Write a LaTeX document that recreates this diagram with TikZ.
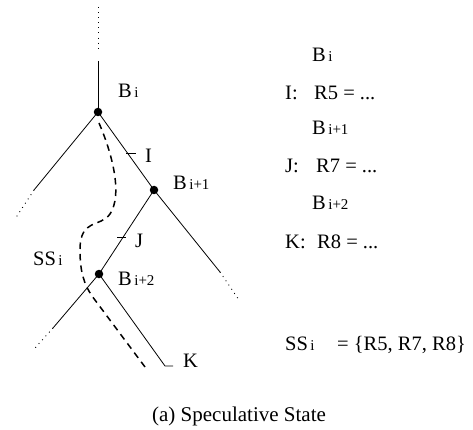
\documentclass[tikz,border=0pt]{standalone}
\usepackage{fontspec}
\setmainfont{Liberation Serif}
\newcommand{\lbl}{\fontsize{20.5}{24}\selectfont}
\newcommand{\sbs}[1]{\hspace{0.12em}{\fontsize{15}{17}\selectfont #1}}
\begin{document}
\begin{tikzpicture}[x=1pt,y=-1pt,
  tree/.style={line width=0.8pt},
  dots/.style={line width=0.9pt,dash pattern=on 0.9pt off 4.2pt},
  spec/.style={line width=1.5pt,dash pattern=on 6.5pt off 5pt},
  br/.style={circle,fill=black,inner sep=0pt,minimum size=8.5pt},
  txt/.style={anchor=base west,inner sep=0pt,font=\lbl}]
\useasboundingbox (0,0) rectangle (473,430);
% branch points
\node[br] (bi) at (98,112) {};
\node[br] (bj) at (154,190) {};
\node[br] (bk) at (99,274) {};
% coordinates
\coordinate (top1) at (98,7);
\coordinate (top2) at (98,50);
\coordinate (top3) at (98,61);
\coordinate (l1) at (34,190);
\coordinate (l2) at (15,219);
\coordinate (r1) at (220,272);
\coordinate (r2) at (239,300);
\coordinate (ll1) at (53,328);
\coordinate (ll2) at (35,348);
\coordinate (k1) at (165,366);
\coordinate (k2) at (173,366);
\coordinate (ti1) at (126,153);
\coordinate (ti2) at (136,153);
\coordinate (tj1) at (117,237);
\coordinate (tj2) at (126,237);
% tree
\draw[dots] (top1) -- (top2);
\draw[tree] (top3) -- (bi.center);
\draw[tree] (bi.center) -- (l1);
\draw[dots] (l1) -- (l2);
\draw[tree] (bi.center) -- (bj.center) -- (r1);
\draw[dots] (r1) -- (r2);
\draw[tree] (bj.center) -- (bk.center) -- (ll1);
\draw[dots] (ll1) -- (ll2);
\draw[tree] (bk.center) -- (k1) -- (k2);
\draw[tree] (ti1) -- (ti2);
\draw[tree] (tj1) -- (tj2);
% speculative path
\coordinate (s0) at (99,123);
\coordinate (s9) at (145,367);
\draw[spec] (s0) .. controls (114,158) and (122,196) .. (110,214)
  .. controls (100,228) and (80,218) .. (80,250)
  .. controls (80,272) and (84,284) .. (92,296) -- (s9);
% labels on tree
\node[txt] (lbi) at (118,98) {B\sbs{i}};
\node[txt] (lbj) at (173,190) {B\sbs{i+1}};
\node[txt] (lbk) at (118,285) {B\sbs{i+2}};
\node[txt] (li) at (145,163) {I};
\node[txt] (lj) at (135,247) {J};
\node[txt] (lk) at (183,367) {K};
\node[txt] (lss) at (33,265) {SS\sbs{i}};
% right column
\node[txt] (rbi) at (312,62) {B\sbs{i}};
\node[txt] (ri) at (285,100) {I:};
\node[txt] (ri2) at (314,100) {R5 = ...};
\node[txt] (rbj) at (312,135) {B\sbs{i+1}};
\node[txt] (rj) at (285,173) {J:};
\node[txt] (rj2) at (316,173) {R7 = ...};
\node[txt] (rbk) at (312,210) {B\sbs{i+2}};
\node[txt] (rk) at (285,248) {K:};
\node[txt] (rk2) at (317,248) {R8 = ...};
\node[txt] (rss) at (285,350) {SS\sbs{i}};
\node[txt] (rss2) at (337,350) {= \{R5, R7, R8\}};
% caption
\node[anchor=base,inner sep=0pt,font=\fontsize{21}{24}\selectfont] (cap) at (239,421) {(a) Speculative State};
\end{tikzpicture}
\end{document}
